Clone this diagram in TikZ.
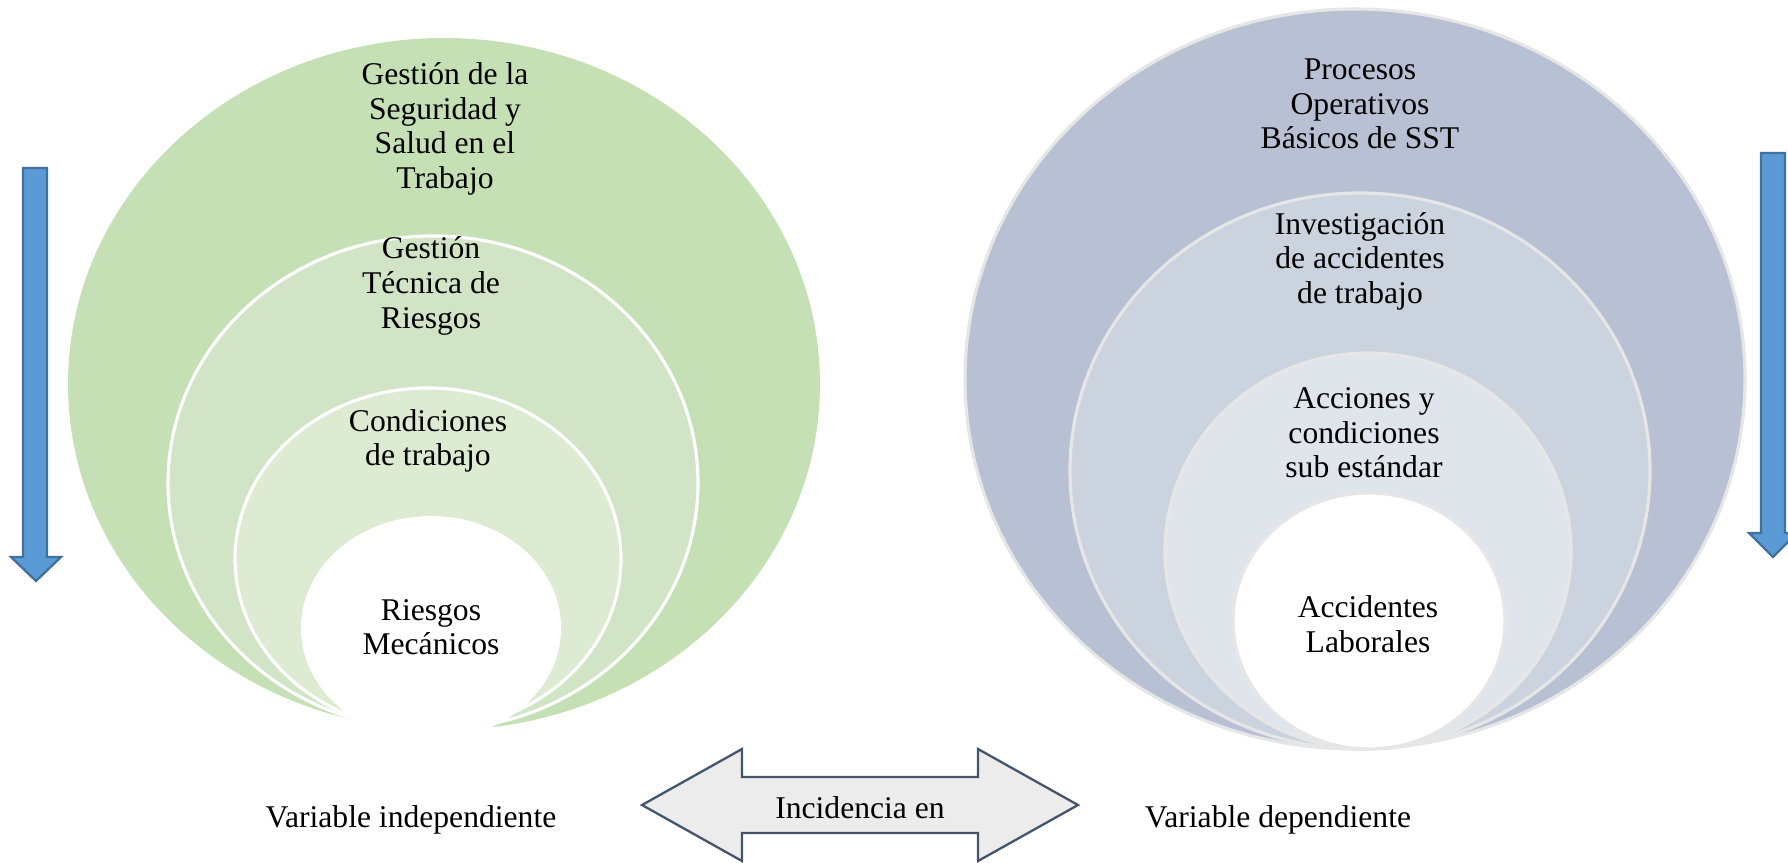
\documentclass[tikz,border=0pt]{standalone}
\usepackage{fontspec}
\setmainfont{Liberation Serif}
\usepackage{xcolor}

\definecolor{verdeA}{HTML}{C5E0B4}
\definecolor{verdeB}{HTML}{D1E5C6}
\definecolor{verdeC}{HTML}{DCEBD2}
\definecolor{grisA}{HTML}{B7C1D3}
\definecolor{grisB}{HTML}{CBD3DE}
\definecolor{grisC}{HTML}{E0E5EC}
\definecolor{borde}{HTML}{E6E6E6}
\definecolor{azul}{HTML}{5B9BD5}
\definecolor{azulborde}{HTML}{41719C}
\definecolor{flecha}{HTML}{44546A}

\begin{document}
\begin{tikzpicture}[x=0.02cm,y=-0.02cm,
		anillo/.style={line width=1.8pt,draw=white},
		anillogris/.style={line width=1.8pt,draw=borde},
		etiqueta/.style={align=center,inner sep=0pt,font=\fontsize{18}{19.7}\selectfont}]
		\useasboundingbox (0,0) rectangle (1788,862);

		% Left rings
		\fill[verdeA] (444,384) ellipse [x radius=376, y radius=346];
		\draw[anillo,fill=verdeB] (433,483) ellipse [x radius=265, y radius=247];
		\draw[anillo,fill=verdeC] (428,559) ellipse [x radius=193, y radius=171];
		\fill[white] (431,628) ellipse [x radius=130, y radius=112];

		\node[etiqueta] (gsst) at (445,129) {Gestión de la\\Seguridad y\\Salud en el\\Trabajo};
		\node[etiqueta] (gtr) at (431,286) {Gestión\\Técnica de\\Riesgos};
		\node[etiqueta] (cdt) at (428,441) {Condiciones\\de trabajo};
		\node[etiqueta] (rm) at (431,627) {Riesgos\\Mecánicos};

		% Right rings
		\draw[anillogris,fill=grisA] (1355,379) ellipse [x radius=390, y radius=370];
		\draw[anillogris,fill=grisB] (1360,471) ellipse [x radius=290, y radius=278];
		\draw[anillogris,fill=grisC] (1368,551) ellipse [x radius=203, y radius=198];
		\draw[anillogris,fill=white] (1369,621) ellipse [x radius=136, y radius=128];

		\node[etiqueta] (pob) at (1360,104) {Procesos\\Operativos\\Básicos de SST};
		\node[etiqueta] (iat) at (1360,261) {Investigación\\de accidentes\\de trabajo};
		\node[etiqueta] (acs) at (1364,433) {Acciones y\\condiciones\\sub estándar};
		\node[etiqueta] (al) at (1368,624) {Accidentes\\Laborales};

		% Blue arrows
		\draw[line width=1.3pt,azulborde,fill=azul,line join=miter]
			(23,168) -- (47,168) -- (47,557) -- (61,557) -- (36,581) -- (11,557) -- (23,557) -- cycle;
		\draw[line width=1.3pt,azulborde,fill=azul,line join=miter]
			(1761,153) -- (1785,153) -- (1785,533) -- (1797,533) -- (1773,557) -- (1749,533) -- (1761,533) -- cycle;

		% Double arrow
		\draw[line width=1.3pt,flecha,fill=gray!15,line join=miter]
			(642,805) -- (742,749) -- (742,777) -- (978,777) -- (978,749) -- (1078,805)
			-- (978,861) -- (978,833) -- (742,833) -- (742,861) -- cycle;
		\node[etiqueta] (inc) at (860,808) {Incidencia en};

		\node[etiqueta] (vi) at (411,820) {Variable independiente};
		\node[etiqueta] (vd) at (1278,820) {Variable dependiente};
	\end{tikzpicture}
\end{document}
